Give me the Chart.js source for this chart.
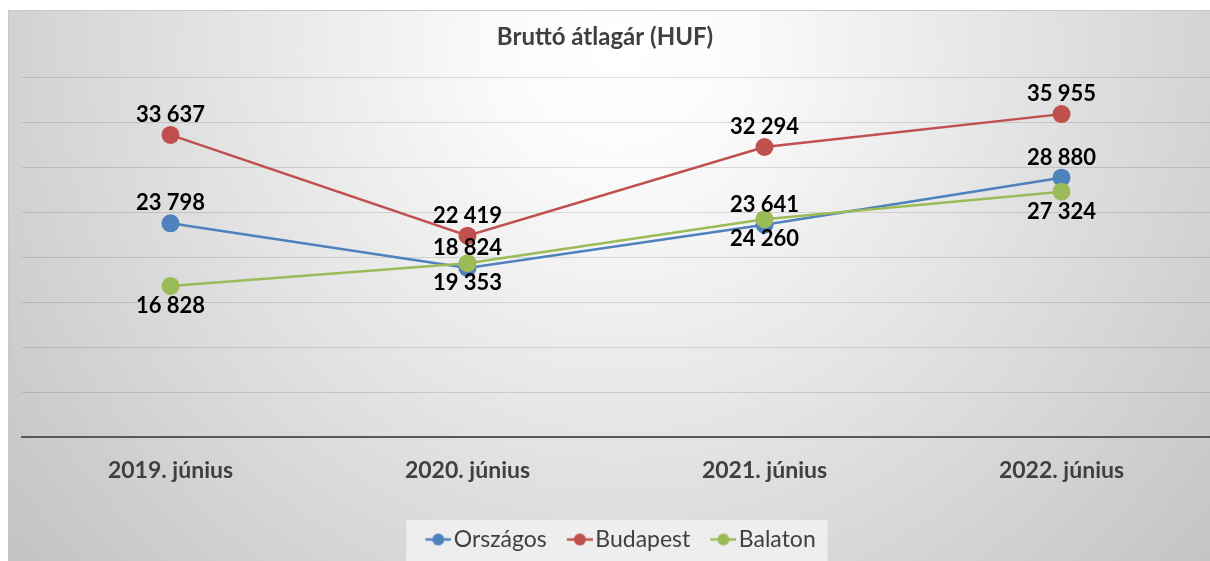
<!DOCTYPE html>
<html>
<head>
<meta charset="utf-8">
<script src="https://cdn.jsdelivr.net/npm/chart.js@4.4.1/dist/chart.umd.min.js"></script>
<style>
  html, body { margin: 0; padding: 0; background: #ffffff; }
  #wrap { width: 1210px; height: 561px; position: relative; }
</style>
</head>
<body>
<div id="wrap"><canvas id="c" width="1210" height="561"></canvas></div>
<script>
const categories = ['2019. június', '2020. június', '2021. június', '2022. június'];
const orszagos = [23798, 18824, 23641, 28880];
const budapest = [33637, 22419, 32294, 35955];
const balaton = [16828, 19353, 24260, 27324];
const seriesNames = ['Országos', 'Budapest', 'Balaton'];
const titleText = 'Bruttó átlagár (HUF)';
const yMin = 0, yMax = 40000, yStep = 5000;

const colors = ['#4f81bd', '#c0504d', '#9bbb59'];
const labelSide = [-1, -1, 1]; // above, above, below

function fmt(v) {
  return String(v).replace(/\B(?=(\d{3})+(?!\d))/g, ' ');
}

const ICON_BOX = 28;
function legendIcon(color) {
  const c = document.createElement('canvas');
  c.width = ICON_BOX + 18; c.height = 14;
  const x = c.getContext('2d');
  const x0 = c.width - 26;
  x.strokeStyle = color; x.lineWidth = 2.5;
  x.beginPath(); x.moveTo(x0, 7); x.lineTo(x0 + 26, 7); x.stroke();
  x.fillStyle = color;
  x.beginPath(); x.arc(x0 + 13, 7, 6, 0, Math.PI * 2); x.fill();
  return c;
}
const icons = colors.map(legendIcon);

const LEGEND_SHIFT = 10;
const bgPlugin = {
  id: 'bg',
  beforeDraw(chart) {
    const ctx = chart.ctx;
    ctx.save();
    ctx.fillStyle = '#ffffff';
    ctx.fillRect(0, 0, chart.width, chart.height);
    const g = ctx.createRadialGradient(620, 50, 0, 620, 50, 780);
    g.addColorStop(0, '#ffffff');
    g.addColorStop(0.15, '#fbfbfb');
    g.addColorStop(1, '#c4c4c4');
    ctx.fillStyle = g;
    ctx.fillRect(8, 10, chart.width - 8, chart.height - 10);
    ctx.strokeStyle = '#c8c8c8';
    ctx.lineWidth = 1;
    ctx.beginPath();
    ctx.moveTo(8.5, chart.height); ctx.lineTo(8.5, 10.5); ctx.lineTo(chart.width, 10.5);
    ctx.stroke();
    // legend box (legend shifted slightly right, as in the reference)
    const lg = chart.legend;
    if (lg && lg.legendHitBoxes && lg.legendHitBoxes.length) {
      if (!lg._shifted) {
        lg.left += LEGEND_SHIFT; lg.right += LEGEND_SHIFT;
        lg.legendHitBoxes.forEach(h => { h.left += LEGEND_SHIFT; });
        lg._shifted = true;
      }
      const hb = lg.legendHitBoxes;
      let minX = Infinity, maxX = -Infinity;
      hb.forEach(h => { minX = Math.min(minX, h.left); maxX = Math.max(maxX, h.left + h.width); });
      ctx.fillStyle = 'rgba(240,240,240,0.9)';
      ctx.fillRect(minX - 8, lg.top + 1, maxX - minX + 20, lg.height);
    }
    ctx.restore();
  }
};

const labelPlugin = {
  id: 'vlabels',
  afterDatasetsDraw(chart) {
    const ctx = chart.ctx;
    ctx.save();
    ctx.font = 'bold 22px Lato';
    ctx.fillStyle = '#000000';
    ctx.textAlign = 'center';
    ctx.textBaseline = 'middle';
    chart.data.datasets.forEach((ds, i) => {
      const meta = chart.getDatasetMeta(i);
      meta.data.forEach((pt, j) => {
        ctx.fillText(fmt(ds.data[j]), pt.x, pt.y + labelSide[i] * 20);
      });
    });
    ctx.restore();
  }
};

const seriesData = [orszagos, budapest, balaton];
const datasets = seriesNames.map((name, i) => ({
  label: name,
  data: seriesData[i],
  borderColor: colors[i],
  backgroundColor: colors[i],
  pointBackgroundColor: colors[i],
  pointBorderColor: colors[i],
  borderWidth: 2.5,
  pointRadius: 9,
  pointHoverRadius: 9,
  pointBorderWidth: 0,
  tension: 0,
  order: i === 2 ? 0 : i + 1
}));

new Chart(document.getElementById('c'), {
  type: 'line',
  data: { labels: categories, datasets },
  plugins: [bgPlugin, labelPlugin],
  options: {
    responsive: false,
    animation: false,
    events: [],
    layout: { autoPadding: false, padding: { left: 0, right: 0, top: 0, bottom: 0 } },
    plugins: {
      title: {
        display: true,
        text: titleText,
        color: '#404040',
        font: { family: 'Lato', size: 24, weight: 'bold', lineHeight: 1.2 },
        padding: { top: 23, bottom: 26 }
      },
      legend: {
        display: true,
        position: 'bottom',
        labels: {
          color: '#404040',
          font: { family: 'Lato', size: 23 },
          usePointStyle: true,
          pointStyleWidth: ICON_BOX,
          padding: 9,
          sort: (a, b) => a.datasetIndex - b.datasetIndex,
          generateLabels(chart) {
            const items = Chart.defaults.plugins.legend.labels.generateLabels(chart);
            items.forEach(it => { it.pointStyle = icons[it.datasetIndex]; });
            return items;
          }
        }
      },
      tooltip: { enabled: false }
    },
    scales: {
      x: {
        offset: true,
        grid: { display: false, drawTicks: false },
        border: { display: true, color: '#595959', width: 2 },
        ticks: {
          color: '#404040',
          font: { family: 'Lato', size: 23, weight: 'bold' },
          padding: 20,
          maxRotation: 0
        },
        afterFit(scale) { scale.height = 82; }
      },
      y: {
        min: yMin,
        max: yMax,
        ticks: { display: false, stepSize: yStep },
        grid: { color: 'rgba(0,0,0,0.12)', lineWidth: 1, drawTicks: false },
        border: { display: false },
        afterFit(scale) { scale.width = 22; }
      }
    }
  }
});
</script>
</body>
</html>
